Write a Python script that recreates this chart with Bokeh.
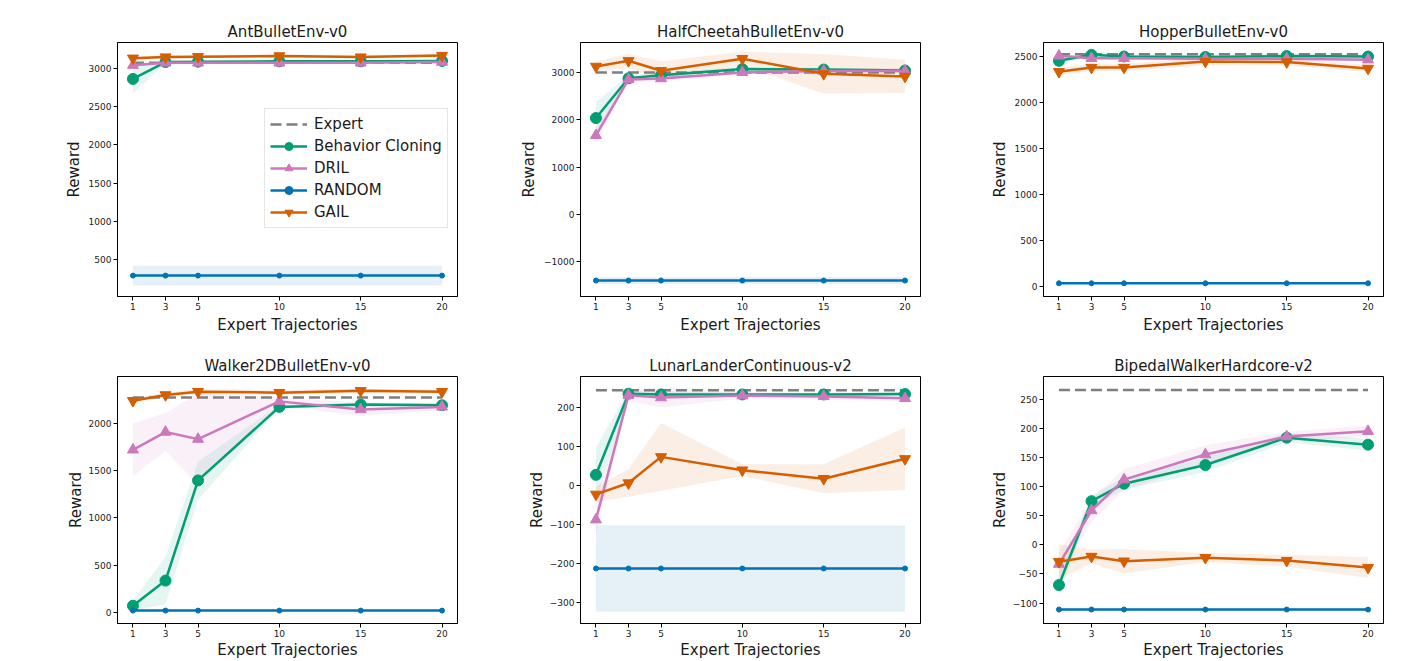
from bokeh.plotting import figure
from bokeh.layouts import gridplot
from bokeh.models import Range1d, FixedTicker, Legend, LegendItem
from bokeh.embed import file_html
from bokeh.resources import INLINE

# ---------------- data ----------------
X = [1, 3, 5, 10, 15, 20]
X_TICKS = [1, 3, 5, 10, 15, 20]
SERIES = ["Expert", "Behavior Cloning", "DRIL", "RANDOM", "GAIL"]

# AntBulletEnv-v0
ANT_EXPERT = 3070
ANT_BC = [2860, 3080, 3085, 3090, 3090, 3095]
ANT_BC_SD = [190, 15, 10, 10, 10, 10]
ANT_DRIL = [3040, 3070, 3070, 3070, 3070, 3080]
ANT_DRIL_SD = [25, 15, 15, 15, 15, 15]
ANT_RND = [290, 290, 290, 290, 290, 290]
ANT_RND_SD = [130, 130, 130, 130, 130, 130]
ANT_GAIL = [3130, 3145, 3150, 3160, 3145, 3165]
ANT_GAIL_SD = [20, 20, 20, 20, 20, 20]
ANT_YTICKS = [500, 1000, 1500, 2000, 2500, 3000]

# HalfCheetahBulletEnv-v0
HC_EXPERT = 3000
HC_BC = [2035, 2875, 2940, 3070, 3060, 3040]
HC_BC_SD = [340, 60, 60, 40, 40, 40]
HC_DRIL = [1670, 2850, 2870, 3000, 3030, 3030]
HC_DRIL_SD = [150, 60, 60, 40, 40, 40]
HC_RND = [-1400, -1400, -1400, -1400, -1400, -1400]
HC_RND_SD = [75, 75, 75, 75, 75, 75]
HC_GAIL = [3125, 3245, 3035, 3290, 2970, 2915]
HC_GAIL_SD = [100, 150, 200, 150, 420, 350]
HC_YTICKS = [-1000, 0, 1000, 2000, 3000]

# HopperBulletEnv-v0
HOP_EXPERT = 2525
HOP_BC = [2453, 2518, 2500, 2495, 2505, 2500]
HOP_BC_SD = [30, 30, 30, 30, 30, 30]
HOP_DRIL = [2507, 2480, 2480, 2475, 2475, 2465]
HOP_DRIL_SD = [20, 20, 20, 20, 20, 20]
HOP_RND = [35, 35, 35, 35, 35, 35]
HOP_RND_SD = [5, 5, 5, 5, 5, 5]
HOP_GAIL = [2334, 2380, 2380, 2446, 2440, 2370]
HOP_GAIL_SD = [40, 40, 40, 40, 40, 40]
HOP_YTICKS = [0, 500, 1000, 1500, 2000, 2500]

# Walker2DBulletEnv-v0
WLK_EXPERT = 2270
WLK_BC = [75, 340, 1395, 2170, 2194, 2187]
WLK_BC_SD = [50, 250, 200, 20, 22, 18]
WLK_DRIL = [1718, 1905, 1830, 2228, 2143, 2170]
WLK_DRIL_SD = [280, 200, 480, 45, 70, 35]
WLK_RND = [24, 24, 24, 24, 24, 24]
WLK_RND_SD = [5, 5, 5, 5, 5, 5]
WLK_GAIL = [2235, 2296, 2330, 2320, 2340, 2330]
WLK_GAIL_SD = [25, 25, 30, 25, 20, 20]
WLK_YTICKS = [0, 500, 1000, 1500, 2000]

# LunarLanderContinuous-v2
LUN_EXPERT = 244
LUN_BC = [27, 235, 233, 233, 233, 234]
LUN_BC_SD = [70, 8, 8, 5, 5, 5]
LUN_DRIL = [-88, 231, 225, 230, 228, 223]
LUN_DRIL_SD = [35, 15, 25, 8, 8, 8]
LUN_RND = [-213, -213, -213, -213, -213, -213]
LUN_RND_SD = [111, 111, 111, 111, 111, 111]
LUN_GAIL = [-23, 6, 73, 39, 17, 68]
LUN_GAIL_SD = [20, 35, 87, 15, 37, 80]
LUN_YTICKS = [-300, -200, -100, 0, 100, 200]

# BipedalWalkerHardcore-v2
BIP_EXPERT = 266
BIP_BC = [-69, 75, 105, 137, 184, 172]
BIP_BC_SD = [18, 10, 10, 12, 8, 10]
BIP_DRIL = [-33, 59, 112, 155, 186, 195]
BIP_DRIL_SD = [20, 20, 18, 16, 8, 10]
BIP_RND = [-111, -111, -111, -111, -111, -111]
BIP_RND_SD = [2, 2, 2, 2, 2, 2]
BIP_GAIL = [-29, -20, -28, -22, -27, -39]
BIP_GAIL_SD = [30, 12, 21, 8, 10, 18]
BIP_YTICKS = [-100, -50, 0, 50, 100, 150, 200, 250]

# ---------------- style ----------------
FONT = "DejaVu Sans"
C_EXPERT = "#7f7f7f"
C_BC = "#029e73"
C_DRIL = "#cc78bc"
C_RND = "#0173b2"
C_GAIL = "#d55e00"


def make(title, expert, series, yrange, yticks, row, legend=False):
    p = figure(width=463, height=342 if row == 0 else 319,
               output_backend="svg", toolbar_location=None,
               x_range=Range1d(0.05, 20.95), y_range=Range1d(*yrange),
               min_border_left=117, min_border_right=6,
               min_border_top=42 if row == 0 else 34,
               min_border_bottom=46 if row == 0 else 28,
               background_fill_color="white", border_fill_color="white")
    p.title.text = title
    p.title.text_font = FONT
    p.title.text_font_size = "15px"
    p.title.text_font_style = "normal"
    p.title.text_color = "#1a1a1a"
    p.title.align = "center"
    p.title.standoff = 4
    p.grid.visible = False
    p.outline_line_color = "black"
    p.outline_line_width = 1
    p.outline_line_alpha = 1

    for ax in (p.xaxis[0], p.yaxis[0]):
        ax.axis_line_color = "black"
        ax.major_tick_line_color = "black"
        ax.major_tick_out = 4
        ax.major_tick_in = 0
        ax.minor_tick_line_color = None
        ax.major_label_text_font = FONT
        ax.major_label_text_font_size = "9px"
        ax.major_label_text_color = "#222222"
        ax.axis_label_text_font = FONT
        ax.axis_label_text_font_size = "15px"
        ax.axis_label_text_font_style = "normal"
        ax.axis_label_text_color = "#1a1a1a"
        ax.major_label_standoff = 2
        ax.axis_label_standoff = 3 if row == 0 else 1
    p.xaxis.ticker = FixedTicker(ticks=X_TICKS)
    p.yaxis.ticker = FixedTicker(ticks=yticks)
    p.yaxis.major_label_overrides = {t: str(t).replace("-", "\u2212") for t in yticks}
    p.xaxis.axis_label = "Expert Trajectories"
    p.yaxis.axis_label = "Reward"

    # bands
    specs = [(C_BC, "circle", 11), (C_DRIL, "triangle", 11),
             (C_RND, "circle", 5), (C_GAIL, "inverted_triangle", 11)]
    for (mean, sd), (c, _, _) in zip(series, specs):
        lo = [m - s for m, s in zip(mean, sd)]
        hi = [m + s for m, s in zip(mean, sd)]
        p.varea(x=X, y1=lo, y2=hi, fill_color=c, fill_alpha=0.1)

    ex = p.line(x=X, y=[expert] * len(X), line_color=C_EXPERT,
                line_width=2.5, line_dash="11 5")
    items = [LegendItem(label=SERIES[0], renderers=[ex])]
    for name, (mean, sd), (c, marker, size) in zip(SERIES[1:], series, specs):
        ln = p.line(x=X, y=mean, line_color=c, line_width=2.5)
        sc = p.scatter(x=X, y=mean, marker=marker, size=size,
                       fill_color=c, line_color=c)
        items.append(LegendItem(label=name, renderers=[ln, sc]))

    if legend:
        lg = Legend(items=items, location=(147, 68))
        lg.label_text_font = FONT
        lg.label_text_font_size = "15px"
        lg.label_text_color = "#1a1a1a"
        lg.glyph_width = 37
        lg.glyph_height = 20
        lg.label_height = 20
        lg.spacing = 2
        lg.padding = 5
        lg.margin = 0
        lg.label_standoff = 7
        lg.border_line_color = "#cccccc"
        lg.background_fill_alpha = 0.85
        p.add_layout(lg, "center")
    return p


p1 = make("AntBulletEnv-v0", ANT_EXPERT,
          [(ANT_BC, ANT_BC_SD), (ANT_DRIL, ANT_DRIL_SD), (ANT_RND, ANT_RND_SD), (ANT_GAIL, ANT_GAIL_SD)],
          (17, 3336), ANT_YTICKS, 0, legend=True)
p2 = make("HalfCheetahBulletEnv-v0", HC_EXPERT,
          [(HC_BC, HC_BC_SD), (HC_DRIL, HC_DRIL_SD), (HC_RND, HC_RND_SD), (HC_GAIL, HC_GAIL_SD)],
          (-1737, 3632), HC_YTICKS, 0)
p3 = make("HopperBulletEnv-v0", HOP_EXPERT,
          [(HOP_BC, HOP_BC_SD), (HOP_DRIL, HOP_DRIL_SD), (HOP_RND, HOP_RND_SD), (HOP_GAIL, HOP_GAIL_SD)],
          (-109, 2652), HOP_YTICKS, 0)
p4 = make("Walker2DBulletEnv-v0", WLK_EXPERT,
          [(WLK_BC, WLK_BC_SD), (WLK_DRIL, WLK_DRIL_SD), (WLK_RND, WLK_RND_SD), (WLK_GAIL, WLK_GAIL_SD)],
          (-112, 2490), WLK_YTICKS, 1)
p5 = make("LunarLanderContinuous-v2", LUN_EXPERT,
          [(LUN_BC, LUN_BC_SD), (LUN_DRIL, LUN_DRIL_SD), (LUN_RND, LUN_RND_SD), (LUN_GAIL, LUN_GAIL_SD)],
          (-354, 279), LUN_YTICKS, 1)
p6 = make("BipedalWalkerHardcore-v2", BIP_EXPERT,
          [(BIP_BC, BIP_BC_SD), (BIP_DRIL, BIP_DRIL_SD), (BIP_RND, BIP_RND_SD), (BIP_GAIL, BIP_GAIL_SD)],
          (-135, 289), BIP_YTICKS, 1)

grid = gridplot([[p1, p2, p3], [p4, p5, p6]], toolbar_location=None)

open("out.html", "w").write(file_html(grid, INLINE))
